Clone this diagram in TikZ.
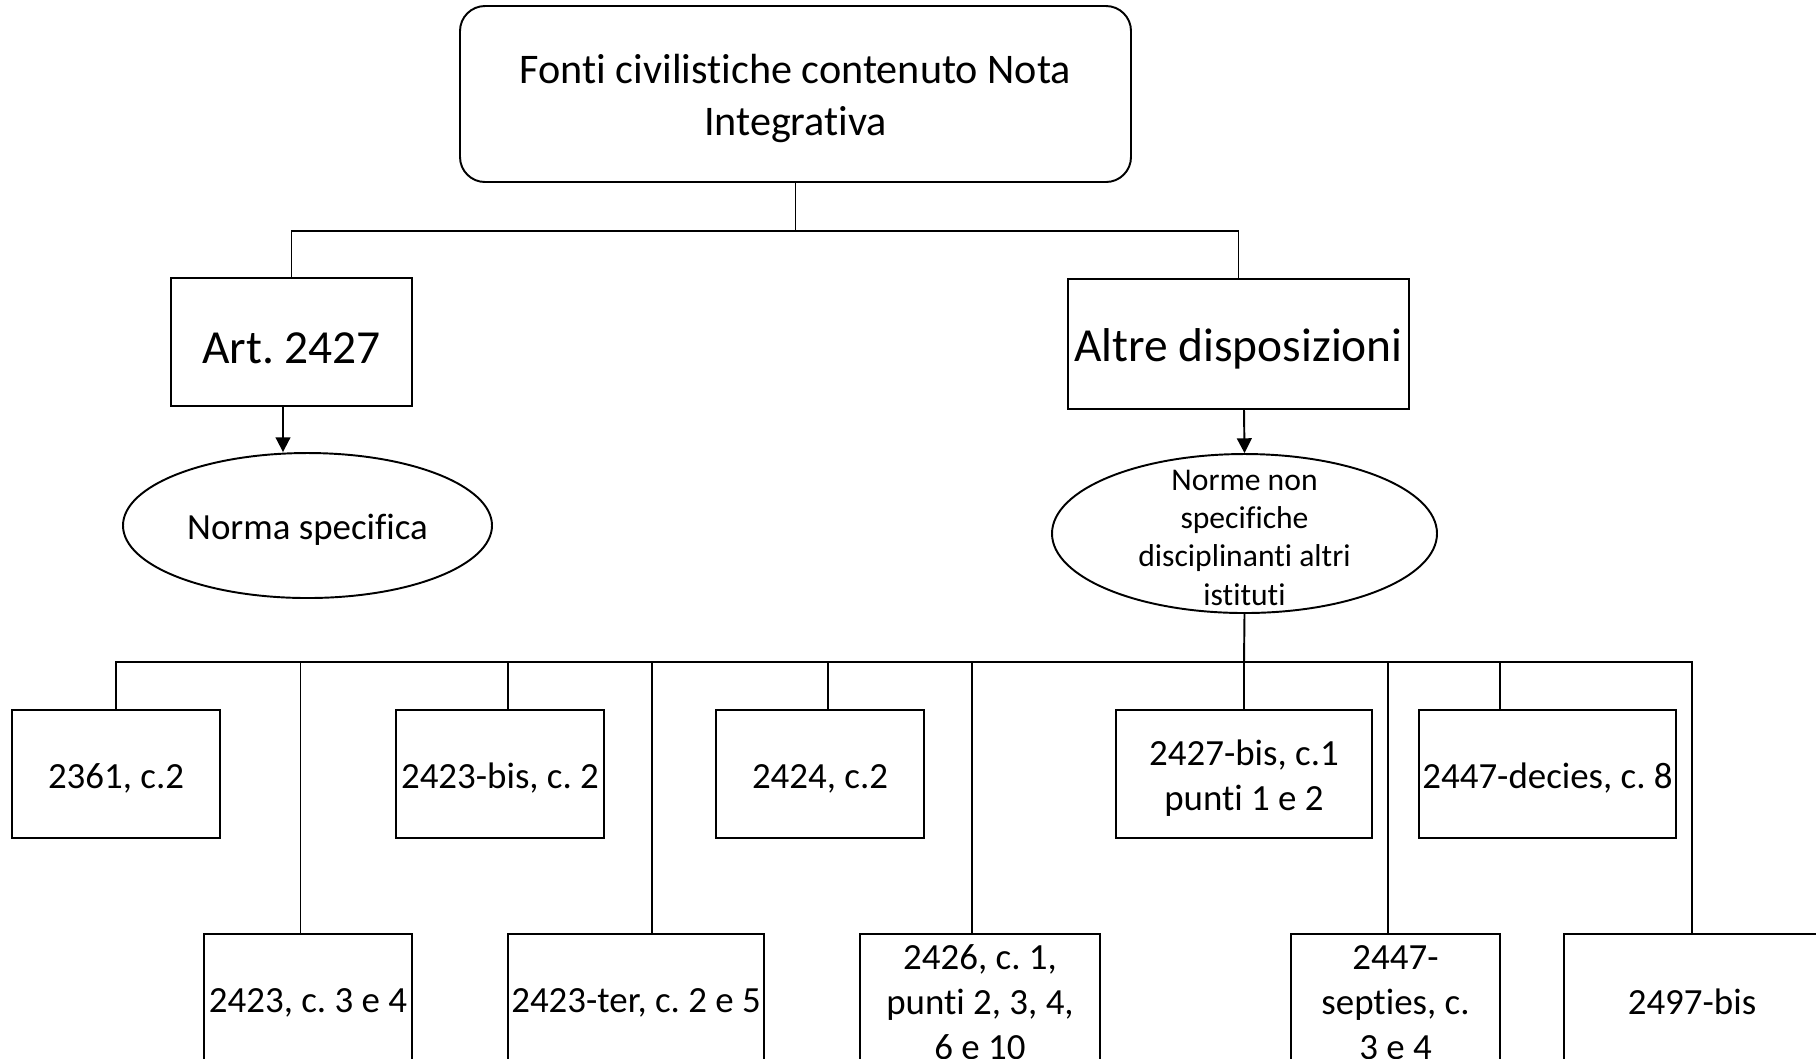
\documentclass[tikz,border=0pt]{standalone}
\usepackage{fontspec}
\setmainfont{Carlito}[Ligatures=CommonOff]
\usetikzlibrary{shapes.geometric}
\usetikzlibrary{positioning}
\usetikzlibrary{arrows.meta}
\frenchspacing
\newcommand{\topstrut}{\rule{0pt}{0.9em}}

\begin{document}
\begin{tikzpicture}[x=1cm, y=-1cm, line width=0.55pt,
    every node/.style={execute at begin node={\topstrut}},
    box/.style={draw, rectangle, minimum height=1.28cm, inner sep=0.5pt, align=center, font=\fontsize{10.5}{12.8}\selectfont},
    bigbox/.style={draw, rectangle, inner sep=0.5pt, font=\fontsize{13.5}{16.5}\selectfont},
    oval/.style={draw, ellipse, inner sep=0pt},
    arr/.style={-{Triangle[length=4.2pt,width=4.2pt]}}]
    \useasboundingbox (0,0) rectangle (18.16,10.58);
    \clip (0,0) rectangle (18.16,10.58);

    % root
    \node[draw, rectangle, rounded corners=0.25cm, align=center, minimum width=6.71cm, minimum height=1.76cm, font=\fontsize{12}{14.6}\selectfont] (root) at (7.955,0.94) {\topstrut Fonti civilistiche contenuto Nota\\Integrativa};

    % two branches
    \node[bigbox, minimum width=2.41cm, minimum height=1.28cm, execute at begin node={\rule{0pt}{0.8em}}] (art) at (2.915,3.42) {Art. 2427};
    \node[bigbox, minimum width=3.41cm, minimum height=1.30cm] (altre) at (12.385,3.44) {Altre disposizioni};

    \node[oval, minimum width=3.69cm, minimum height=1.45cm, font=\fontsize{10.5}{12.8}\selectfont] (spec) at (3.075,5.255) {Norma specifica};
    \node[oval, minimum width=3.85cm, minimum height=1.59cm, label={[align=center, font=\fontsize{9}{10.9}\selectfont]center:\topstrut Norme non\\specifiche\\disciplinanti altri\\istituti}] (nonspec) at (12.445,5.335) {};

    \draw (root.south) -- ++(0,0.48) coordinate (split);
    \draw (split) -| (art.north);
    \draw (split) -| (altre.north);
    \draw[arr] ([xshift=-0.85mm]art.south) -- ([xshift=-2.45mm]spec.north);
    \draw[arr] ([xshift=0.55mm]altre.south) -- (nonspec.north);

    % articles, upper row
    \node[box, minimum width=2.08cm] (a2361) at (1.16,7.74) {2361, c.2};
    \node[box, minimum width=2.08cm] (a2423bis) at (5.00,7.74) {2423-bis, c. 2};
    \node[box, minimum width=2.08cm] (a2424) at (8.20,7.74) {2424, c.2};
    \node[box, minimum width=2.565cm] (a2427bis) at (12.44,7.74) {\topstrut 2427-bis, c.1\\punti 1 e 2};
    \node[box, minimum width=2.57cm] (a2447dec) at (15.475,7.74) {2447-decies, c. 8};

    % articles, lower row
    \node[box, minimum width=2.08cm] (a2423) at (3.08,9.98) {2423, c. 3 e 4};
    \node[box, minimum width=2.56cm] (a2423ter) at (6.36,9.98) {2423-ter, c. 2 e 5};
    \node[box, minimum width=2.40cm] (a2426) at (9.80,9.98) {\topstrut 2426, c. 1,\\punti 2, 3, 4,\\6 e 10};
    \node[box, minimum width=2.09cm] (a2447sep) at (13.955,9.98) {\topstrut 2447-\\septies, c.\\3 e 4};
    \node[box, minimum width=2.56cm] (a2497) at (16.92,9.98) {2497-bis};

    \draw (nonspec.south) -- (12.44,6.62) coordinate (bus);
    \draw (bus) -| (a2361.north);
    \draw (bus) -| ([xshift=0.8mm]a2423bis.north);
    \draw (bus) -| ([xshift=0.8mm]a2424.north);
    \draw (bus) -| (a2427bis.north);
    \draw (bus) -| ([xshift=-4.75mm]a2447dec.north);
    \draw (bus) -| ([xshift=-0.75mm]a2423.north);
    \draw (bus) -| ([xshift=1.6mm]a2423ter.north);
    \draw (bus) -| ([xshift=-0.8mm]a2426.north);
    \draw (bus) -| ([xshift=-0.75mm]a2447sep.north);
    \draw (bus) -| (a2497.north);
\end{tikzpicture}
\end{document}
